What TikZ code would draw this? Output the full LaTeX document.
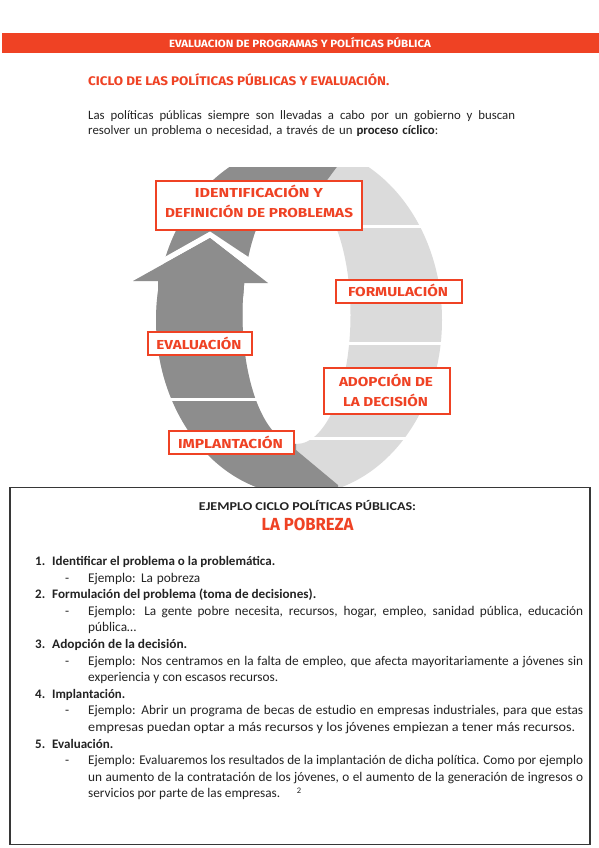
\documentclass[tikz,border=0pt]{standalone}
\usepackage{fontspec}
\usepackage{graphicx}
\setmainfont{Carlito}
\newfontfamily\handfont{Fira Sans}
\definecolor{redA}{RGB}{239,66,36}
\definecolor{darkg}{RGB}{141,141,141}
\definecolor{lightg}{RGB}{219,219,219}
\definecolor{framec}{RGB}{55,55,55}
\definecolor{txt}{RGB}{35,35,35}
\newlength\tmpw
\newcommand\fitw[2]{\resizebox{#1pt}{\height}{#2}}
\newcommand\jl[2]{\settowidth\tmpw{#2}\ifdim\tmpw<#1pt\relax\makebox[#1pt][s]{#2}\else\resizebox{#1pt}{\height}{#2}\fi}
\begin{document}
\begin{tikzpicture}[x=1pt,y=-1pt,
  hw/.style={font=\handfont\bfseries\fontsize{13}{13}\selectfont, text=redA, inner sep=0, anchor=base},
  cbox/.style={draw=redA, line width=1.8pt, fill=white, inner sep=0},
  body/.style={font=\fontsize{13.3}{16}\selectfont, text=txt, inner sep=0, anchor=base west},
  bodyb/.style={body, font=\bfseries\fontsize{13}{16}\selectfont},
  gap/.style={draw=white, line width=3pt},
]
\useasboundingbox (0,0) rectangle (599,848);
\fill[white] (0,0) rectangle (599,848);

% header
\node[fill=redA, minimum width=597, minimum height=20, inner sep=0] (bar) at (300.5,43) {};
\node[hw, text=white, font=\handfont\bfseries\fontsize{10.5}{10.5}\selectfont] (bart) at (300,47.3) {\fitw{262}{EVALUACION DE PROGRAMAS Y POLÍTICAS PÚBLICA}};
\node[hw, anchor=base west, font=\handfont\bfseries\fontsize{12.5}{12.5}\selectfont] (title) at (88,86) {\fitw{301}{CICLO DE LAS POLÍTICAS PÚBLICAS Y EVALUACIÓN.}};
\node[body, font=\fontsize{12.8}{16}\selectfont] (p1) at (88,119.5) {\jl{427}{Las políticas públicas siempre son llevadas a cabo por un gobierno y buscan}};
\node[body, font=\fontsize{12.8}{16}\selectfont] (p2) at (88,135) {\jl{350}{resolver un problema o necesidad, a través de un \textbf{proceso cíclico}:}};

% ring
\begin{scope}
  \clip (0,167) rectangle (599,600);
  \fill[lightg, even odd rule] (299,320) ellipse [x radius=143, y radius=175]
                               (296.5,315) ellipse [x radius=54, y radius=129];
  \begin{scope}
    \clip (100,100) -- (345,100) -- (342,160) -- (296,222) -- (296,450) -- (338,485) -- (338,520) -- (100,520) -- cycle;
    \fill[darkg, even odd rule] (299,320) ellipse [x radius=143, y radius=175]
                                (296.5,315) ellipse [x radius=54, y radius=129];
  \end{scope}
\end{scope}
% white chevron gap and arrow head
\fill[white] (138,272) -- (210,231.5) -- (274,274) -- (268,283) -- (210,238) -- (133,281) -- cycle;
\fill[darkg] (133,281) -- (210,238) -- (268,283) -- (244.2,283) -- (243.3,296) -- (158,296) -- (158,281) -- cycle;
% separators
\draw[gap] (320,226) -- (430,226);
\draw[gap] (335,343) -- (450,343);
\draw[gap] (300,438) -- (415,438);
\draw[gap] (160,399) -- (265,399);

% cycle boxes
\node[cbox, minimum width=206, minimum height=49] (idbox) at (259,205.5) {};
\node[hw] (id1) at (259,197) {\fitw{128}{IDENTIFICACIÓN Y}};
\node[hw] (id2) at (259,217) {\fitw{188}{DEFINICIÓN DE PROBLEMAS}};
\node[cbox, minimum width=126, minimum height=23] (formbox) at (399,291.5) {};
\node[hw] (form) at (398,296.5) {\fitw{100}{FORMULACIÓN}};
\node[cbox, minimum width=104, minimum height=23] (evalbox) at (200,343.5) {};
\node[hw] (eval) at (199,349) {\fitw{85}{EVALUACIÓN}};
\node[cbox, minimum width=125, minimum height=23] (implbox) at (231.5,442.5) {};
\node[hw] (impl) at (230.5,448) {\fitw{105}{IMPLANTACIÓN}};
\node[cbox, minimum width=126, minimum height=46] (adopbox) at (387,391) {};
\node[hw] (adop1) at (386,386) {\fitw{94}{ADOPCIÓN DE}};
\node[hw] (adop2) at (385.5,406.5) {\fitw{85}{LA DECISIÓN}};

% example box
\node[draw=framec, line width=1.8pt, fill=white, minimum width=580, minimum height=357, inner sep=0] (exbox) at (300,666) {};
\node[font=\bfseries\fontsize{12}{12}\selectfont, text=txt, inner sep=0, anchor=base] (eh) at (307.5,510.7) {\fitw{217}{EJEMPLO CICLO POLÍTICAS PÚBLICAS:}};
\node[hw, font=\handfont\bfseries\fontsize{17.5}{17.5}\selectfont] (pob) at (307.5,530) {\fitw{92}{LA POBREZA}};

\node[bodyb] (n1) at (35,565.5) {1.};
\node[bodyb] (i1) at (52,565.5) {\fitw{223}{Identificar el problema o la problemática.}};
\node[body] (d1) at (65,582.1) {-};
\node[body] (e1) at (88,582.1) {\jl{112}{Ejemplo: La pobreza}};
\node[bodyb] (n2) at (35,598.7) {2.};
\node[bodyb] (i2) at (52,598.7) {\fitw{264}{Formulación del problema (toma de decisiones).}};
\node[body] (d2) at (65,615.3) {-};
\node[body] (e2a) at (88,615.3) {\jl{495}{Ejemplo: La gente pobre necesita, recursos, hogar, empleo, sanidad pública, educación}};
\node[body] (e2b) at (88,631.9) {pública…};
\node[bodyb] (n3) at (35,648.5) {3.};
\node[bodyb] (i3) at (52,648.5) {\fitw{135}{Adopción de la decisión.}};
\node[body] (d3) at (65,665.1) {-};
\node[body] (e3a) at (88,665.1) {\jl{495}{Ejemplo: Nos centramos en la falta de empleo, que afecta mayoritariamente a jóvenes sin}};
\node[body] (e3b) at (88,681.7) {\jl{190}{experiencia y con escasos recursos.}};
\node[bodyb] (n4) at (35,698.3) {4.};
\node[bodyb] (i4) at (52,698.3) {\fitw{73}{Implantación.}};
\node[body] (d4) at (65,714.9) {-};
\node[body] (e4a) at (88,714.9) {\jl{495}{Ejemplo: Abrir un programa de becas de estudio en empresas industriales, para que estas}};
\node[body] (e4b) at (88,731.5) {\fitw{487}{empresas puedan optar a más recursos y los jóvenes empiezan a tener más recursos.}};
\node[bodyb] (n5) at (35,748.1) {5.};
\node[bodyb] (i5) at (52,748.1) {\fitw{61}{Evaluación.}};
\node[body] (d5) at (65,764.7) {-};
\node[body] (e5a) at (88,764.7) {\jl{495}{Ejemplo: Evaluaremos los resultados de la implantación de dicha política. Como por ejemplo}};
\node[body] (e5b) at (88,781.3) {\jl{495}{un aumento de la contratación de los jóvenes, o el aumento de la generación de ingresos o}};
\node[body] (e5c) at (88,797.9) {\jl{192}{servicios por parte de las empresas.}};
\node[font=\fontsize{8.5}{9}\selectfont, text=txt, inner sep=0, anchor=base] (sup) at (299,793) {2};
\end{tikzpicture}
\end{document}
